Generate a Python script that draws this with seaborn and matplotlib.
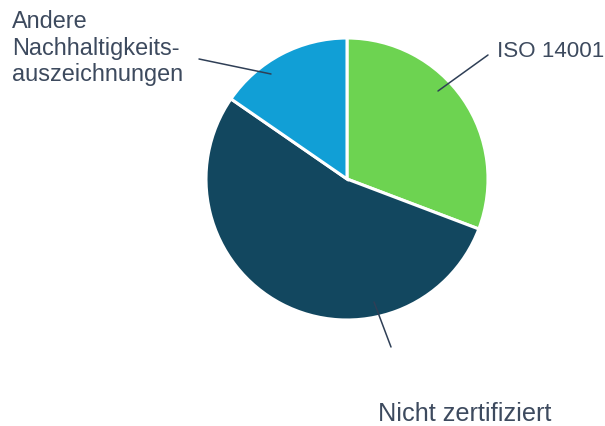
import matplotlib
matplotlib.use("Agg")
import matplotlib.pyplot as plt
import seaborn as sns

sns.set_theme(style="white")
plt.rcParams['font.family'] = ['Liberation Sans', 'DejaVu Sans']

categories = ["ISO 14001", "Nicht zertifiziert", "Andere\nNachhaltigkeits-\nauszeichnungen"]
values = [4, 7, 2]
colors = ["#6dd351", "#12475f", "#119fd6"]

W, H = 605, 426
fig = plt.figure(figsize=(W / 100, H / 100), dpi=100)
cx, cy, r = 347, 179, 141
ax = fig.add_axes([(cx - r) / W, (H - cy - r) / H, 2 * r / W, 2 * r / H])
ax.pie(values, colors=colors, startangle=90, counterclock=False, radius=1,
       wedgeprops=dict(edgecolor="white", linewidth=2.2))
ax.set_xlim(-1, 1)
ax.set_ylim(-1, 1)
ax.set_aspect("equal")
ax.axis("off")

tc = "#3d4a5e"
lc = "#2f3f56"

def px(x, y):
    return ((x - cx) / r, (cy - y) / r)

# leader lines
for (x0, y0), (x1, y1) in [((438, 91), (488, 55)), ((374, 302), (391, 347)), ((271, 74), (199, 59))]:
    a, b = px(x0, y0)
    c, d = px(x1, y1)
    ax.plot([a, c], [b, d], color=lc, lw=1.1, clip_on=False)

x, y = px(497, 57)
ax.text(x, y, categories[0], fontsize=16.1, color=tc, ha="left", va="baseline", clip_on=False)
x, y = px(378, 421)
ax.text(x, y, categories[1], fontsize=18.2, color=tc, ha="left", va="baseline", clip_on=False)
for line, base in zip(categories[2].split("\n"), [28, 55, 81]):
    x, y = px(12, base)
    ax.text(x, y, line, fontsize=16.9, color=tc, ha="left", va="baseline", clip_on=False)

fig.savefig("out.png", dpi=100)
